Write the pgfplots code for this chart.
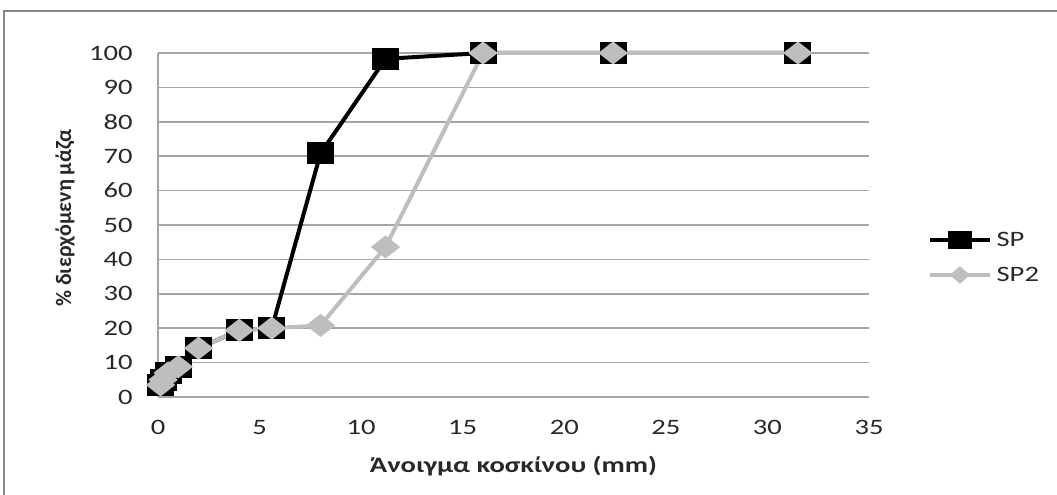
\documentclass[border=0pt]{standalone}
\usepackage{pgfplots}
\pgfplotsset{compat=1.18}
\usepackage{fontspec}
\setmainfont{Carlito}
\newfontfamily\widefont[FakeStretch=1.3]{Carlito}
\newfontfamily\widebold[FakeStretch=1.3,UprightFont={* Bold}]{Carlito}
\definecolor{sptwo}{RGB}{190,190,190}
\definecolor{gridgray}{RGB}{165,165,165}
\definecolor{framegray}{RGB}{134,134,134}
\definecolor{txt}{RGB}{40,40,40}

% sieve passing data (sieve opening in mm, percent passing)
\pgfplotstableread{
x     y
0.125 3.5
0.25  5
0.5   7
1     8.8
2     14.2
4     19.4
5.6   20
8     70.8
11.2  98.3
16    100
22.4  100
31.5  100
}\sp
\pgfplotstableread{
x     y
0.125 3.5
0.25  5
0.5   7
1     8.8
2     14.2
4     19.4
5.6   20
8     20.8
11.2  43.6
16    100
22.4  100
31.5  100
}\spii

\begin{document}
\begin{tikzpicture}
\useasboundingbox (0pt,0pt) rectangle (792.75pt,371.25pt);
\draw[framegray, line width=1.5pt] (3pt,0pt) -- (3pt,363pt) -- (792.75pt,363pt);
\begin{axis}[
  at={(118.5pt,73.5pt)}, anchor=south west, scale only axis,
  width=533.25pt, height=258pt,
  xmin=0, xmax=35, ymin=0, ymax=100,
  xtick={0,5,...,35}, ytick={0,10,...,100},
  axis x line*=bottom, axis y line*=left,
  axis line style={gridgray, line width=1.2pt, -},
  major tick length=0pt,
  ymajorgrids, grid style={gridgray, line width=1.2pt},
  /pgf/number format/assume math mode=true,
  ticklabel style={font=\widefont\fontsize{16.5}{18}\selectfont, text=txt, inner sep=0pt},
  xticklabel shift=17pt,
  yticklabel shift=18.75pt,
  xlabel={Άνοιγμα κοσκίνου (mm)},
  ylabel={\% διερχόμενη μάζα},
  xlabel style={font=\widebold\fontsize{16.5}{18}\selectfont, text=txt, anchor=center, at={(axis description cs:0.5,-0.2006)}},
  ylabel style={font=\bfseries\fontsize{16.5}{18}\selectfont, text=txt, anchor=center, at={(axis description cs:-0.1308,0.52)}},
  clip=false,
  legend style={draw=none, fill=none, at={(axis description cs:1.083,0.4055)}, anchor=west,
    inner sep=0pt, font=\widefont\fontsize{16.5}{18}\selectfont, text=txt,
    nodes={inner sep=0pt}, row sep=14pt, column sep=3.75pt},
  legend cell align=left,
  legend image code/.code={\draw[mark repeat=2,mark phase=2,#1] plot coordinates {(0pt,0pt)(22.5pt,0pt)(45pt,0pt)};},
]
\addplot[black, line width=3pt, mark=square*, mark size=6.75pt,
  mark options={xscale=1.28, solid, fill=black}, forget plot] table[x=x,y=y] {\sp};
\addplot[sptwo, line width=3pt, mark=diamond*, mark size=6.75pt,
  mark options={xscale=1.7, solid, fill=sptwo, draw=sptwo}, forget plot] table[x=x,y=y] {\spii};
\addlegendimage{black, line width=2.5pt, mark=square*, mark size=5.6pt, mark options={xscale=1.33, fill=black}}
\addlegendentry{SP}
\addlegendimage{sptwo, line width=2.5pt, mark=diamond*, mark size=4.9pt, mark options={xscale=1.55, fill=sptwo}}
\addlegendentry{SP2}
\end{axis}
\end{tikzpicture}
\end{document}
